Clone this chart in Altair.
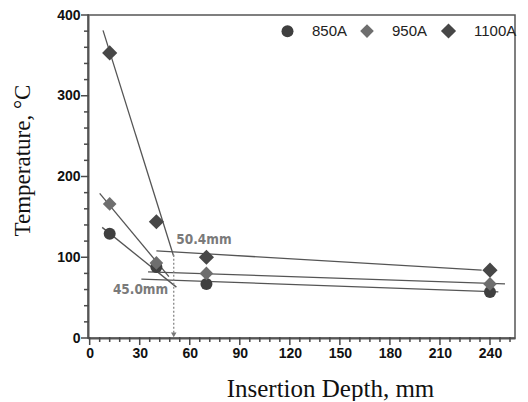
import altair as alt
import pandas as pd

# ---- data ----
series = ["850A", "950A", "1100A"]
depth = [12, 40, 70, 240]
t_850 = [129, 88, 67, 57]
t_950 = [166, 93, 80, 67]
t_1100 = [353, 144, 100, 84]

# fitted trend segments (start x, start y, end x, end y)
seg_series = ["1100A", "1100A", "950A", "950A", "850A", "850A"]
seg_x1 = [8, 40, 6, 35, 7.5, 31]
seg_y1 = [381, 108, 179, 82, 137, 73]
seg_x2 = [50.4, 235, 47.5, 249, 52, 245]
seg_y2 = [101, 84, 76, 67, 63, 57]

# annotations
ann_text = ["50.4mm", "45.0mm"]
ann_x = [68.5, 30.5]
ann_y = [121, 59]
cut_x = 50.4
cut_top = 103

x_major = [0, 30, 60, 90, 120, 150, 180, 210, 240]
x_minor = [v for v in range(0, 253, 6) if v % 30 != 0]
y_major = [0, 100, 200, 300, 400]
y_minor = [v for v in range(0, 401, 20) if v % 100 != 0]

rows = []
for s, vals in zip(series, [t_850, t_950, t_1100]):
    for d, v in zip(depth, vals):
        rows.append({"series": s, "depth": d, "temp": v})
pts = pd.DataFrame(rows)
segs = pd.DataFrame({"series": seg_series, "x1": seg_x1, "y1": seg_y1,
                     "x2": seg_x2, "y2": seg_y2})
anns = pd.DataFrame({"text": ann_text, "x": ann_x, "y": ann_y})
cut = pd.DataFrame({"x": [cut_x], "y1": [cut_top], "y2": [3], "ya": [4]})
xt_major = pd.DataFrame({"v": x_major})
xt_minor = pd.DataFrame({"v": x_minor})
yt_major = pd.DataFrame({"v": y_major})
yt_minor = pd.DataFrame({"v": y_minor})

W, H = 427, 323
xscale = alt.Scale(domain=[-1, 255], nice=False, zero=False)
yscale = alt.Scale(domain=[0, 400], nice=False)

axis_common = dict(
    domainColor="#555555", domainWidth=2, ticks=False,
    labelFont="Liberation Sans", labelFontWeight="bold", labelFontSize=14,
    labelColor="#111111", titleFont="Liberation Serif", titleFontWeight="normal",
    titleColor="#111111", grid=False, labelPadding=8,
    labelOverlap=False, labelFlush=False,
)

xaxis = alt.Axis(title="Insertion Depth, mm", values=x_major,
                 titleFontSize=25, titlePadding=16, titleX=242, orient="bottom",
                 **axis_common)
yaxis = alt.Axis(title="Temperature, °C", values=y_major,
                 titleFontSize=23, titlePadding=22, titleY=145, orient="left",
                 **axis_common)


def X(field):
    return alt.X(field, scale=xscale, axis=xaxis)


def Y(field):
    return alt.Y(field, scale=yscale, axis=yaxis)


TICK = "#4a4a4a"


def xticks(df, length):
    return alt.Chart(df).mark_rule(color=TICK, strokeWidth=1.5).encode(
        x=X("v:Q"), y=alt.value(H - 1), y2=alt.value(H + 1 + length),
    )


def yticks(df, length):
    return alt.Chart(df).mark_rule(color=TICK, strokeWidth=1.5).encode(
        y=Y("v:Q"), x=alt.value(1), x2=alt.value(-1 - length),
    )


color_scale = alt.Scale(domain=series, range=["#3f3f3f", "#6e6e6e", "#474747"])
shape_scale = alt.Scale(domain=series, range=["circle", "diamond", "diamond"])
size_scale = alt.Scale(domain=series, range=[144, 230, 230])

lines = alt.Chart(segs).mark_rule(color="#555555", strokeWidth=1.3).encode(
    x=X("x1:Q"), y=Y("y1:Q"), x2="x2:Q", y2="y2:Q",
)

dotted = alt.Chart(cut).mark_rule(color="#888888", strokeWidth=1.3, strokeDash=[2, 2]).encode(
    x=X("x:Q"), y=Y("y1:Q"), y2="y2:Q",
)
arrow = alt.Chart(cut).mark_point(shape="triangle-down", filled=True, size=30,
                                  color="#777777", opacity=1).encode(
    x=X("x:Q"), y=Y("ya:Q"),
)

points = alt.Chart(pts).mark_point(filled=True, opacity=1).encode(
    x=X("depth:Q"),
    y=Y("temp:Q"),
    color=alt.Color("series:N", scale=color_scale, sort=series, legend=alt.Legend(
        title=None, orient="none", direction="horizontal", legendX=192, legendY=7,
        labelFont="Liberation Sans", labelFontSize=15, labelColor="#222222",
        symbolOpacity=1, labelOffset=17, columnPadding=9, symbolSize=170,
    )),
    shape=alt.Shape("series:N", scale=shape_scale, sort=series),
    size=alt.Size("series:N", scale=size_scale, sort=series),
)

text = alt.Chart(anns).mark_text(
    font="DejaVu Sans Condensed, DejaVu Sans",
    fontWeight="bold", fontSize=13.5, color="#7a7a7a",
).encode(
    x=X("x:Q"), y=Y("y:Q"), text="text:N",
)

chart = alt.layer(
    xticks(xt_major, 6), xticks(xt_minor, 3), yticks(yt_major, 6), yticks(yt_minor, 3),
    lines, dotted, arrow, points, text,
).properties(
    width=W, height=H,
    padding={"left": 3, "top": 0, "right": 0, "bottom": 0},
).configure_view(stroke="#555555", strokeWidth=1.5)

chart.save("out.html", embed_options={"renderer": "svg", "actions": False})
